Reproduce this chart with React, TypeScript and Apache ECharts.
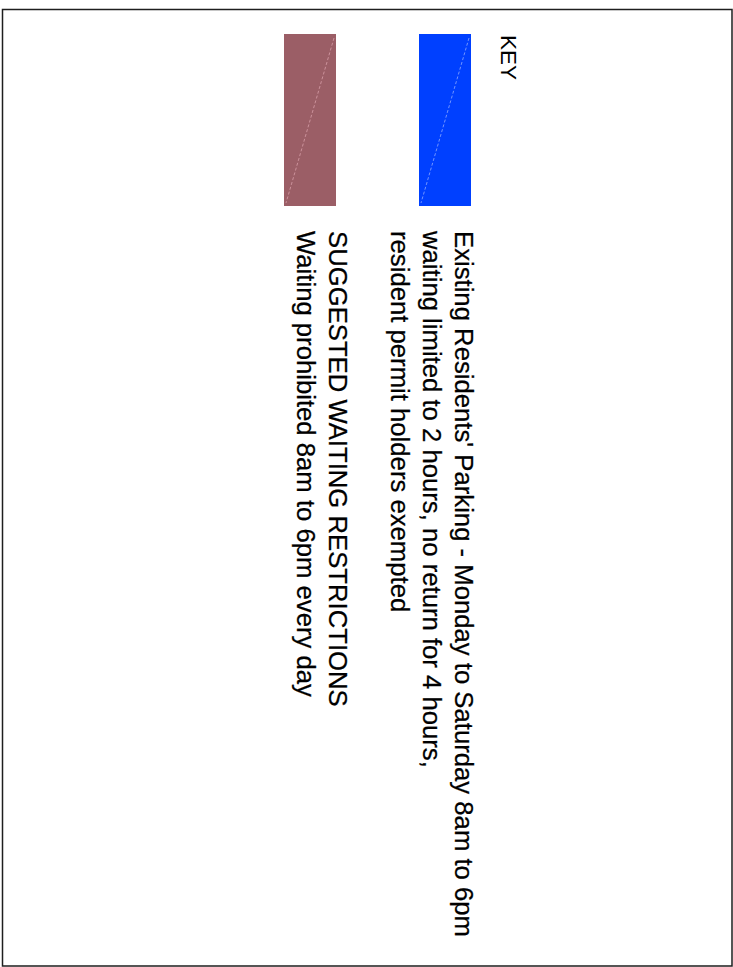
import React, { useEffect, useRef } from "react";
import * as echarts from "echarts";

// ---- data ----
const keyTitle = "KEY";
const swatchColors = ["#0040ff", "#9b5e66"];
const swatchLineColors = ["rgba(190,205,255,0.75)", "rgba(235,180,190,0.75)"];
const groupLines: string[][] = [
  [
    "Existing Residents' Parking - Monday to Saturday 8am to 6pm",
    "waiting limited to 2 hours, no return for 4 hours,",
    "resident permit holders exempted",
  ],
  ["SUGGESTED WAITING RESTRICTIONS", "Waiting prohibited 8am to 6pm every day"],
];

const W = 733;
const H = 967;
const FONT = '"Liberation Sans", Arial, Helvetica, sans-serif';

export default function App() {
  const ref = useRef<HTMLDivElement>(null);
  useEffect(() => {
    if (!ref.current) return;
    const chart = echarts.init(ref.current, undefined, { renderer: "svg" });

    // local (landscape) coordinates: u along reading direction, v across
    const swatchTop = [262, 397];
    const textStartV = [269, 395];
    const lineGap = 32;
    const children: any[] = [];

    children.push({
      type: "text",
      x: 35,
      y: 225,
      style: {
        text: keyTitle,
        font: `22.5px ${FONT}`,
        fill: "#000",
        align: "left",
        verticalAlign: "middle",
        textAlign: "left",
        textVerticalAlign: "middle",
      },
    });

    groupLines.forEach((lines, gi) => {
      const v0 = swatchTop[gi];
      children.push({
        type: "rect",
        shape: { x: 34, y: v0, width: 172, height: 52 },
        style: { fill: swatchColors[gi] },
      });
      children.push({
        type: "line",
        shape: { x1: 38, y1: v0 + 2, x2: 203, y2: v0 + 50 },
        style: { stroke: swatchLineColors[gi], lineWidth: 0.8, lineDash: [3, 2] },
      });
      lines.forEach((t, li) => {
        children.push({
          type: "text",
          x: 231,
          y: textStartV[gi] + li * lineGap,
          style: {
            text: t,
            font: `25.7px ${FONT}`,
            fill: "#000",
            stroke: "#000",
            lineWidth: 0.25,
            align: "left",
            verticalAlign: "middle",
            textAlign: "left",
            textVerticalAlign: "middle",
          },
        });
      });
    });

    chart.setOption({
      animation: false,
      backgroundColor: "#fff",
      graphic: {
        elements: [
          {
            type: "rect",
            shape: { x: 2.5, y: 9.5, width: 729.5, height: 956.5 },
            style: { fill: "none", stroke: "#1e1e1e", lineWidth: 1.5 },
          },
          {
            type: "group",
            x: W,
            y: 0,
            rotation: -Math.PI / 2,
            children,
          },
        ],
      },
    });
    return () => chart.dispose();
  }, []);
  return (
    <div
      ref={ref}
      style={{ position: "fixed", left: 0, top: 0, width: W, height: H }}
    />
  );
}
